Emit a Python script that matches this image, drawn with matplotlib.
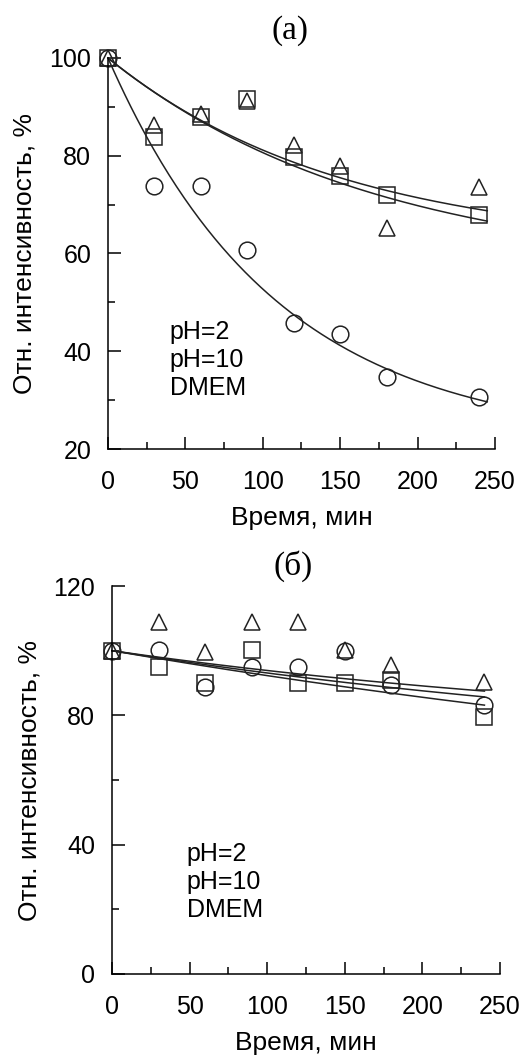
import numpy as np
import matplotlib
matplotlib.use("Agg")
import matplotlib.pyplot as plt
from matplotlib.ticker import MultipleLocator

plt.rcParams['font.family'] = ['Liberation Sans', 'DejaVu Sans']

# time points, min
t = [0, 30, 60, 90, 120, 150, 180, 240]

# panel (a)
a_tri = [100, 86.3, 88.5, 91.2, 82.2, 77.9, 65.2, 73.6]
a_sq = [100, 83.8, 87.9, 91.6, 79.7, 75.9, 72.0, 67.9]
a_circ = [100, 73.8, 73.8, 60.7, 45.8, 43.5, 34.7, 30.6]
# fitted curves y = A + (100 - A) * exp(-k t), parameters
a_fits = [(61.0, 0.0066), (56.0, 0.0058), (21.4, 0.0092)]

# panel (b)
b_tri = [100, 108.9, 99.6, 109.0, 109.0, 100.2, 95.6, 90.3]
b_sq = [100, 95.0, 90.0, 100.2, 90.0, 90.0, 91.0, 79.5]
b_circ = [100, 100.2, 88.8, 95.0, 95.0, 100.0, 89.3, 83.2]
b_fits = [(72.3, 0.0025), (65.5, 0.00223), (41.0, 0.0014)]

legend_labels = ["pH=2", "pH=10", "DMEM"]

fig = plt.figure(figsize=(5.25, 10.58), dpi=100)
ax1 = fig.add_axes([0.2057, 0.5756, 0.7371, 0.3696])
ax2 = fig.add_axes([0.2133, 0.0794, 0.7390, 0.3667])


def draw(ax, tri, sq, circ, fits, t_end):
    tt = np.linspace(0, t_end, 200)
    for A, k in fits:
        ax.plot(tt, A + (100 - A) * np.exp(-k * tt), color='#222222', lw=1.1, clip_on=False)
    kw = dict(ls='none', mfc='none', mec='#222222', mew=1.1, clip_on=False)
    ax.plot(t, sq, marker='s', ms=11, **kw)
    ax.plot(t, circ, marker='o', ms=12, **kw)
    ax.plot(t, tri, marker='^', ms=12, **kw)
    for s in ['top', 'right']:
        ax.spines[s].set_visible(False)
    for s in ['left', 'bottom']:
        ax.spines[s].set_linewidth(1.1)
    ax.tick_params(which='major', direction='in', length=9, width=1.1, labelsize=18)
    ax.tick_params(which='minor', direction='in', length=5, width=1.1)
    ax.tick_params(axis='x', which='major', pad=15)
    ax.tick_params(axis='y', which='major', pad=12)
    ax.set_xlim(0, 250)
    ax.xaxis.set_major_locator(MultipleLocator(50))
    ax.xaxis.set_minor_locator(MultipleLocator(25))
    ax.set_xlabel("Время, мин", fontsize=19, labelpad=9)
    ax.set_ylabel("Отн. интенсивность, %", fontsize=19, labelpad=9)


draw(ax1, a_tri, a_sq, a_circ, a_fits, 245)
ax1.set_ylim(20, 100)
ax1.yaxis.set_major_locator(MultipleLocator(20))
ax1.yaxis.set_minor_locator(MultipleLocator(10))

draw(ax2, b_tri, b_sq, b_circ, b_fits, 240)
ax2.set_ylim(0, 120)
ax2.yaxis.set_major_locator(MultipleLocator(40))
ax2.yaxis.set_minor_locator(MultipleLocator(20))

for ax, x0, y0 in [(ax1, 0.16, 0.33), (ax2, 0.193, 0.34)]:
    ax.text(x0, y0, "\n".join(legend_labels), transform=ax.transAxes,
            fontsize=18, va='top', ha='left', linespacing=1.22)

fig.text(0.553, 0.971, "(a)", fontsize=24, family='Liberation Serif', ha='center', va='center')
fig.text(0.558, 0.465, "(б)", fontsize=24, family='Liberation Serif', ha='center', va='center')

fig.savefig("out.png", dpi=100)
